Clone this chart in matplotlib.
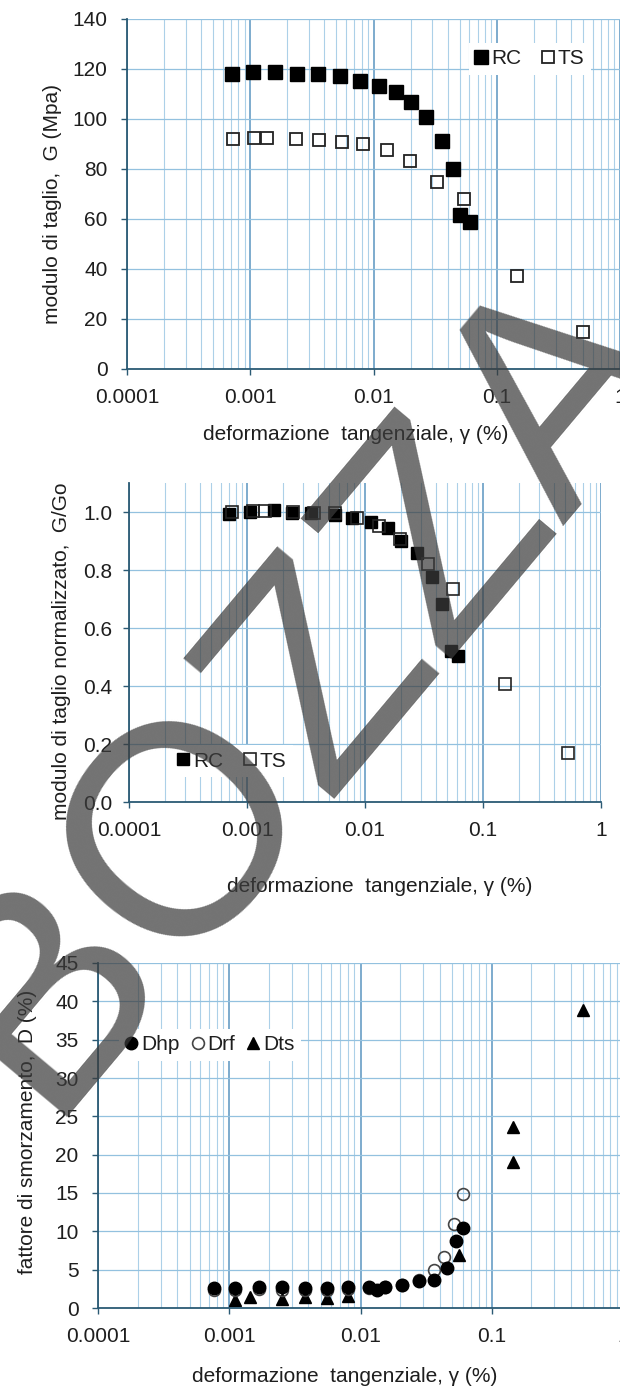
import matplotlib.pyplot as plt
from matplotlib.ticker import LogLocator, NullFormatter, FixedLocator

plt.rcParams['font.family'] = ['Liberation Sans', 'DejaVu Sans']

# --- data ---
# panel 1: shear modulus G (MPa)
g_rc_x = [0.00071, 0.00106, 0.0016, 0.0024, 0.00352, 0.00532, 0.00774, 0.0110,
          0.0151, 0.0200, 0.0268, 0.0357, 0.0445, 0.0504, 0.0606]
g_rc_y = [118.0, 118.7, 118.7, 118.0, 118.0, 117.2, 115.1, 113.3,
          110.9, 106.8, 100.7, 91.3, 79.9, 61.6, 58.9]
g_ts_x = [0.00072, 0.00108, 0.00138, 0.00235, 0.0036, 0.00556, 0.00824, 0.01277,
          0.0197, 0.0325, 0.0542, 0.145, 0.499]
g_ts_y = [92.0, 92.3, 92.3, 91.9, 91.6, 90.9, 90.0, 87.6, 83.3, 74.9, 67.9, 37.2, 14.9]

# panel 2: normalised modulus G/Go
n_rc_x = [0.00071, 0.00106, 0.0017, 0.0024, 0.0035, 0.0056, 0.0077, 0.0113,
          0.0156, 0.0200, 0.0274, 0.0367, 0.0447, 0.0535, 0.0618]
n_rc_y = [0.994, 1.000, 1.008, 0.995, 0.995, 0.988, 0.978, 0.964,
          0.944, 0.900, 0.858, 0.777, 0.682, 0.522, 0.505]
n_ts_x = [0.00074, 0.00112, 0.00142, 0.00247, 0.00372, 0.00557, 0.0085, 0.0132,
          0.0198, 0.034, 0.0552, 0.1535, 0.525]
n_ts_y = [1.001, 1.004, 1.003, 0.999, 0.995, 0.995, 0.978, 0.953,
          0.907, 0.820, 0.736, 0.407, 0.168]

# panel 3: damping D (%)
dhp_x = [0.00076, 0.0011, 0.00169, 0.00252, 0.00377, 0.00553, 0.0081, 0.0116,
         0.0133, 0.0155, 0.0207, 0.0277, 0.0365, 0.0456, 0.0530, 0.0600]
dhp_y = [2.6, 2.6, 2.8, 2.7, 2.6, 2.6, 2.7, 2.7, 2.4, 2.8, 3.0, 3.5, 3.7, 5.2, 8.7, 10.4]
drf_x = [0.00076, 0.0011, 0.00169, 0.00252, 0.00377, 0.00553, 0.0081, 0.0116,
         0.0155, 0.0207, 0.0277, 0.0360, 0.0435, 0.0520, 0.0600]
drf_y = [2.3, 2.4, 2.5, 2.4, 2.4, 2.4, 2.5, 2.6, 2.7, 3.0, 3.6, 5.0, 6.6, 10.9, 14.9]
dts_x = [0.0011, 0.00145, 0.00252, 0.00377, 0.00553, 0.0081, 0.0565, 0.146, 0.146, 0.497]
dts_y = [1.1, 1.5, 1.2, 1.5, 1.3, 1.6, 6.9, 23.6, 19.0, 38.9]

x_ticks = [0.0001, 0.001, 0.01, 0.1, 1]
x_labels = ['0.0001', '0.001', '0.01', '0.1', '1']
xlabel = 'deformazione  tangenziale, \u03b3 (%)'

W, H = 620, 1389
TXT = '#1e1e1e'
FS = 15

fig = plt.figure(figsize=(W / 100, H / 100), dpi=100)


def add_ax(left, top, right, bottom):
    return fig.add_axes([left / W, 1 - bottom / H, (right - left) / W, (bottom - top) / H])


def style(ax, yticks, ylabels, ylim, ypad):
    ax.set_xscale('log')
    ax.set_xlim(1e-4, 1)
    ax.set_ylim(*ylim)
    ax.xaxis.set_major_locator(FixedLocator(x_ticks))
    ax.set_xticklabels(x_labels)
    ax.xaxis.set_minor_locator(LogLocator(base=10, subs=range(2, 10)))
    ax.xaxis.set_minor_formatter(NullFormatter())
    ax.set_yticks(yticks)
    ax.set_yticklabels(ylabels)
    ax.grid(True, which='major', axis='x', color='#5a95c0', lw=1.1)
    ax.grid(True, which='minor', axis='x', color='#acd0e8', lw=0.8)
    ax.grid(True, which='major', axis='y', color='#93c1df', lw=0.9)
    ax.set_axisbelow(True)
    for s in ['top', 'right']:
        ax.spines[s].set_visible(False)
    for s in ['left', 'bottom']:
        ax.spines[s].set_color('#2b5a74')
        ax.spines[s].set_linewidth(1.3)
    ax.tick_params(axis='x', which='major', direction='out', length=4, width=1,
                   color='#2b5a74', labelsize=FS, labelcolor=TXT, pad=10)
    ax.tick_params(axis='x', which='minor', length=0)
    ax.tick_params(axis='y', direction='out', length=4, width=1,
                   color='#2b5a74', labelsize=FS, labelcolor=TXT, pad=ypad)


def legend(ax, cx, cy, ncol):
    ax.legend(ncol=ncol, loc='center', bbox_to_anchor=(cx / W, 1 - cy / H),
              bbox_transform=fig.transFigure, frameon=True, facecolor='white',
              edgecolor='none', framealpha=1, fancybox=False, fontsize=FS,
              handlelength=0.55, handletextpad=0.2, columnspacing=1.0,
              borderpad=0.3, labelcolor=TXT)


# panel 1
ax1 = add_ax(127, 19, 620, 369)
style(ax1, range(0, 141, 20), [str(v) for v in range(0, 141, 20)], (0, 140), 10)
ax1.plot(g_rc_x, g_rc_y, 's', ms=9.5, color='black', label='RC')
ax1.plot(g_ts_x, g_ts_y, 's', ms=9, mfc='none', mec='#222222', mew=1.3, label='TS')
legend(ax1, 530, 59, 2)
fig.text(356 / W, 1 - 435 / H, xlabel, ha='center', va='center', fontsize=FS, color=TXT)
fig.text(53 / W, 1 - 204 / H, 'modulo di taglio,  G (Mpa)', rotation=90,
         ha='center', va='center', fontsize=FS, color=TXT)

# panel 2
ax2 = add_ax(129, 483, 601, 802)
yt = [0, 0.2, 0.4, 0.6, 0.8, 1.0]
style(ax2, yt, ['%.1f' % v for v in yt], (0, 1.1), 8)
ax2.plot(n_rc_x, n_rc_y, 's', ms=8, color='black', label='RC')
ax2.plot(n_ts_x, n_ts_y, 's', ms=8, mfc='none', mec='#222222', mew=1.2, label='TS')
legend(ax2, 232, 761, 2)
fig.text(380 / W, 1 - 887 / H, xlabel, ha='center', va='center', fontsize=FS, color=TXT)
fig.text(62 / W, 1 - 651 / H, 'modulo di taglio normalizzato,  G/Go', rotation=90,
         ha='center', va='center', fontsize=FS, color=TXT)

# panel 3
ax3 = add_ax(98, 963, 623, 1308)
style(ax3, range(0, 46, 5), [str(v) for v in range(0, 46, 5)], (0, 45), 10)
ax3.plot(dts_x, dts_y, '^', ms=8.5, color='black', label='Dts')
ax3.plot(drf_x, drf_y, 'o', ms=8.5, mfc='none', mec='#444444', mew=1.2, label='Drf')
ax3.plot(dhp_x, dhp_y, 'o', ms=9, color='black', label='Dhp')
h, l = ax3.get_legend_handles_labels()
ax3.legend(h[::-1], l[::-1], ncol=3, loc='center', bbox_to_anchor=(210 / W, 1 - 1045 / H),
           bbox_transform=fig.transFigure, frameon=True, facecolor='white',
           edgecolor='none', framealpha=1, fancybox=False, fontsize=FS,
           handlelength=0.55, handletextpad=0.2, columnspacing=0.6,
           borderpad=0.3, labelcolor=TXT)
fig.text(345 / W, 1 - 1377 / H, xlabel, ha='center', va='center', fontsize=FS, color=TXT)
fig.text(28 / W, 1 - 1132 / H, 'fattore di smorzamento,  D (%)', rotation=90,
         ha='center', va='center', fontsize=FS, color=TXT)

# draft watermark
fig.text(304 / W, 1 - 686 / H, 'BOZZA', rotation=50, rotation_mode='anchor',
         ha='center', va='center', fontsize=215, color='#3c3c3c', alpha=0.72, zorder=10)

fig.savefig('out.png', dpi=100, facecolor='white')
